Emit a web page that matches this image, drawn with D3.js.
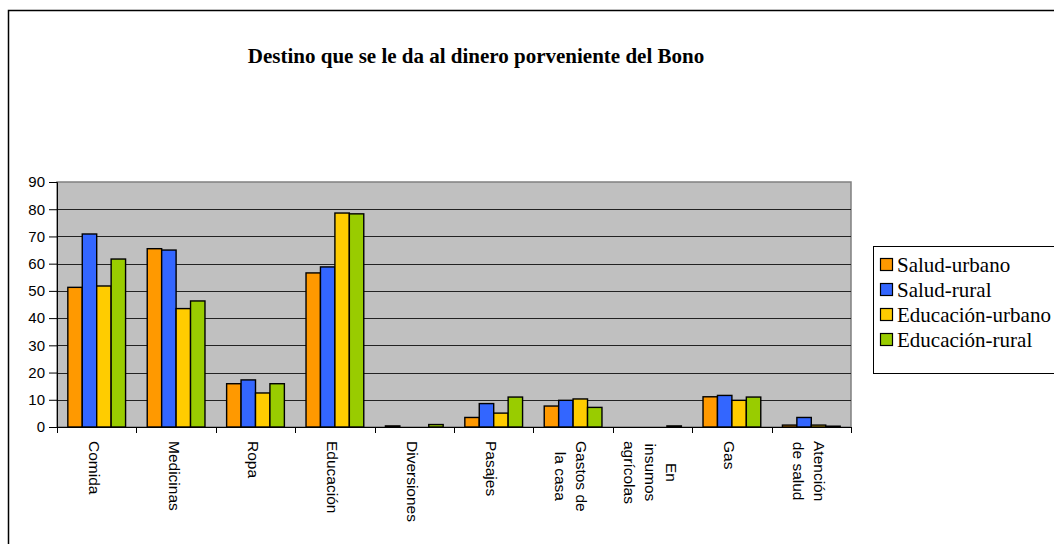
<!DOCTYPE html>
<html>
<head>
<meta charset="utf-8">
<script src="https://cdn.jsdelivr.net/npm/d3@7"></script>
<style>
  body { margin: 0; background: #fff; }
</style>
</head>
<body>
<div id="chart"></div>
<script>
// data
const categories = ["Comida", "Medicinas", "Ropa", "Educación", "Diversiones", "Pasajes",
  "Gastos de\nla casa", "En\ninsumos\nagrícolas", "Gas", "Atención\nde salud"];
const seriesNames = ["Salud-urbano", "Salud-rural", "Educación-urbano", "Educación-rural"];
const saludUrbano = [51.3, 65.5, 15.9, 56.6, 0.4, 3.5, 7.7, 0, 11.1, 0.7];
const saludRural = [70.9, 65.0, 17.3, 58.8, 0, 8.6, 9.8, 0, 11.6, 3.5];
const educUrbano = [51.8, 43.5, 12.5, 78.6, 0, 5.1, 10.3, 0, 9.8, 0.7];
const educRural = [61.7, 46.3, 15.9, 78.3, 0.9, 11.0, 7.2, 0.4, 11.0, 0.3];
const yTicks = [0, 10, 20, 30, 40, 50, 60, 70, 80, 90];
const colors = ["#FF9900", "#3366FF", "#FFCC00", "#99CC00"];

const seriesValues = [saludUrbano, saludRural, educUrbano, educRural];
const rows = categories.map((c, i) => {
  const r = { cat: c };
  seriesNames.forEach((s, j) => r[s] = seriesValues[j][i]);
  return r;
});

const width = 1054, height = 544;
const plot = { left: 57, right: 851, top: 182, bottom: 427 };

const svg = d3.select("#chart").append("svg")
  .attr("width", width)
  .attr("height", height);

// outer chart frame (runs off the right and bottom edges)
svg.append("rect")
  .attr("x", 8.5).attr("y", 10.5)
  .attr("width", 1100).attr("height", 600)
  .attr("fill", "none")
  .attr("stroke", "#000")
  .attr("stroke-width", 1.5);

svg.append("text")
  .attr("x", 476).attr("y", 63)
  .attr("text-anchor", "middle")
  .style("font-family", "'Liberation Serif', 'Times New Roman', serif")
  .style("font-weight", "bold")
  .style("font-size", "21px")
  .text("Destino que se le da al dinero porveniente del Bono");

const x0 = d3.scaleBand().domain(categories).range([plot.left, plot.right]);
const bw = x0.bandwidth();
const x1 = d3.scaleBand().domain(seriesNames)
  .range([bw * 0.75 / 5.5, bw * 4.75 / 5.5]);
const y = d3.scaleLinear().domain([0, 90]).range([plot.bottom, plot.top]);

// plot background
svg.append("rect")
  .attr("x", plot.left).attr("y", plot.top)
  .attr("width", plot.right - plot.left)
  .attr("height", plot.bottom - plot.top)
  .attr("fill", "#C0C0C0")
  .attr("stroke", "#808080")
  .attr("stroke-width", 1.5);

// gridlines
svg.append("g")
  .selectAll("line")
  .data(yTicks.filter(d => d > 0 && d < 90))
  .enter().append("line")
  .attr("x1", plot.left).attr("x2", plot.right)
  .attr("y1", d => Math.round(y(d)) + 0.5)
  .attr("y2", d => Math.round(y(d)) + 0.5)
  .attr("stroke", "#222")
  .attr("stroke-width", 1);

// bars
const groups = svg.append("g")
  .selectAll("g")
  .data(rows)
  .enter().append("g")
  .attr("transform", d => `translate(${x0(d.cat)},0)`);

groups.selectAll("rect")
  .data(d => seriesNames.map((s, j) => ({ key: s, value: d[s], j })))
  .enter().append("rect")
  .filter(d => d.value > 0)
  .attr("x", d => x1(d.key))
  .attr("y", d => y(d.value))
  .attr("width", x1.bandwidth())
  .attr("height", d => y(0) - y(d.value))
  .attr("fill", d => colors[d.j])
  .attr("stroke", "#000")
  .attr("stroke-width", 1.4);

// y axis
const yAxis = d3.axisLeft(y).tickValues(yTicks).tickSize(8).tickPadding(4);
const gy = svg.append("g")
  .attr("transform", `translate(${plot.left},0)`)
  .call(yAxis);
gy.select(".domain").attr("stroke", "#000");
gy.selectAll(".tick text")
  .style("font-family", "'Liberation Sans', Arial, sans-serif")
  .style("font-size", "15px")
  .attr("fill", "#000");

// x axis line + ticks at category boundaries
const boundaries = categories.map(c => x0(c)).concat([plot.right]);
svg.append("line")
  .attr("x1", plot.left).attr("x2", plot.right)
  .attr("y1", plot.bottom + 0.5).attr("y2", plot.bottom + 0.5)
  .attr("stroke", "#000");
svg.append("g")
  .selectAll("line")
  .data(boundaries)
  .enter().append("line")
  .attr("x1", d => Math.round(d) + 0.5).attr("x2", d => Math.round(d) + 0.5)
  .attr("y1", plot.bottom).attr("y2", plot.bottom + 6)
  .attr("stroke", "#000");

// rotated category labels, lines centred in a block starting at the axis
const lineH = 21;
const labels = svg.append("g")
  .selectAll("g")
  .data(categories)
  .enter().append("g");

labels.each(function(c) {
  const lines = c.split("\n");
  const g = d3.select(this);
  const t = g.selectAll("text")
    .data(lines)
    .enter().append("text")
    .attr("text-anchor", "middle")
    .attr("dominant-baseline", "central")
    .attr("y", (d, i) => (i - (lines.length - 1) / 2) * lineH)
    .style("font-family", "'Liberation Sans', Arial, sans-serif")
    .style("font-size", "15.5px")
    .text(d => d);
  let maxLen = 0;
  t.each(function() { maxLen = Math.max(maxLen, this.getComputedTextLength()); });
  const cx = x0(c) + bw / 2 - 2;
  g.attr("transform", `translate(${cx},${441 + maxLen / 2}) rotate(90)`);
});

// legend
const legend = svg.append("g");
legend.append("rect")
  .attr("x", 873.5).attr("y", 246.5)
  .attr("width", 300).attr("height", 127)
  .attr("fill", "#fff")
  .attr("stroke", "#000")
  .attr("stroke-width", 1);

const items = legend.selectAll("g.item")
  .data(seriesNames)
  .enter().append("g")
  .attr("class", "item")
  .attr("transform", (d, i) => `translate(0,${265 + i * 25})`);

items.append("rect")
  .attr("x", 880.5).attr("y", -6.5)
  .attr("width", 12).attr("height", 12)
  .attr("fill", (d, i) => colors[i])
  .attr("stroke", "#000")
  .attr("stroke-width", 1.2);

items.append("text")
  .attr("x", 897).attr("y", 0)
  .attr("dominant-baseline", "central")
  .style("font-family", "'Liberation Serif', 'Times New Roman', serif")
  .style("font-size", "21px")
  .text(d => d);
</script>
</body>
</html>
